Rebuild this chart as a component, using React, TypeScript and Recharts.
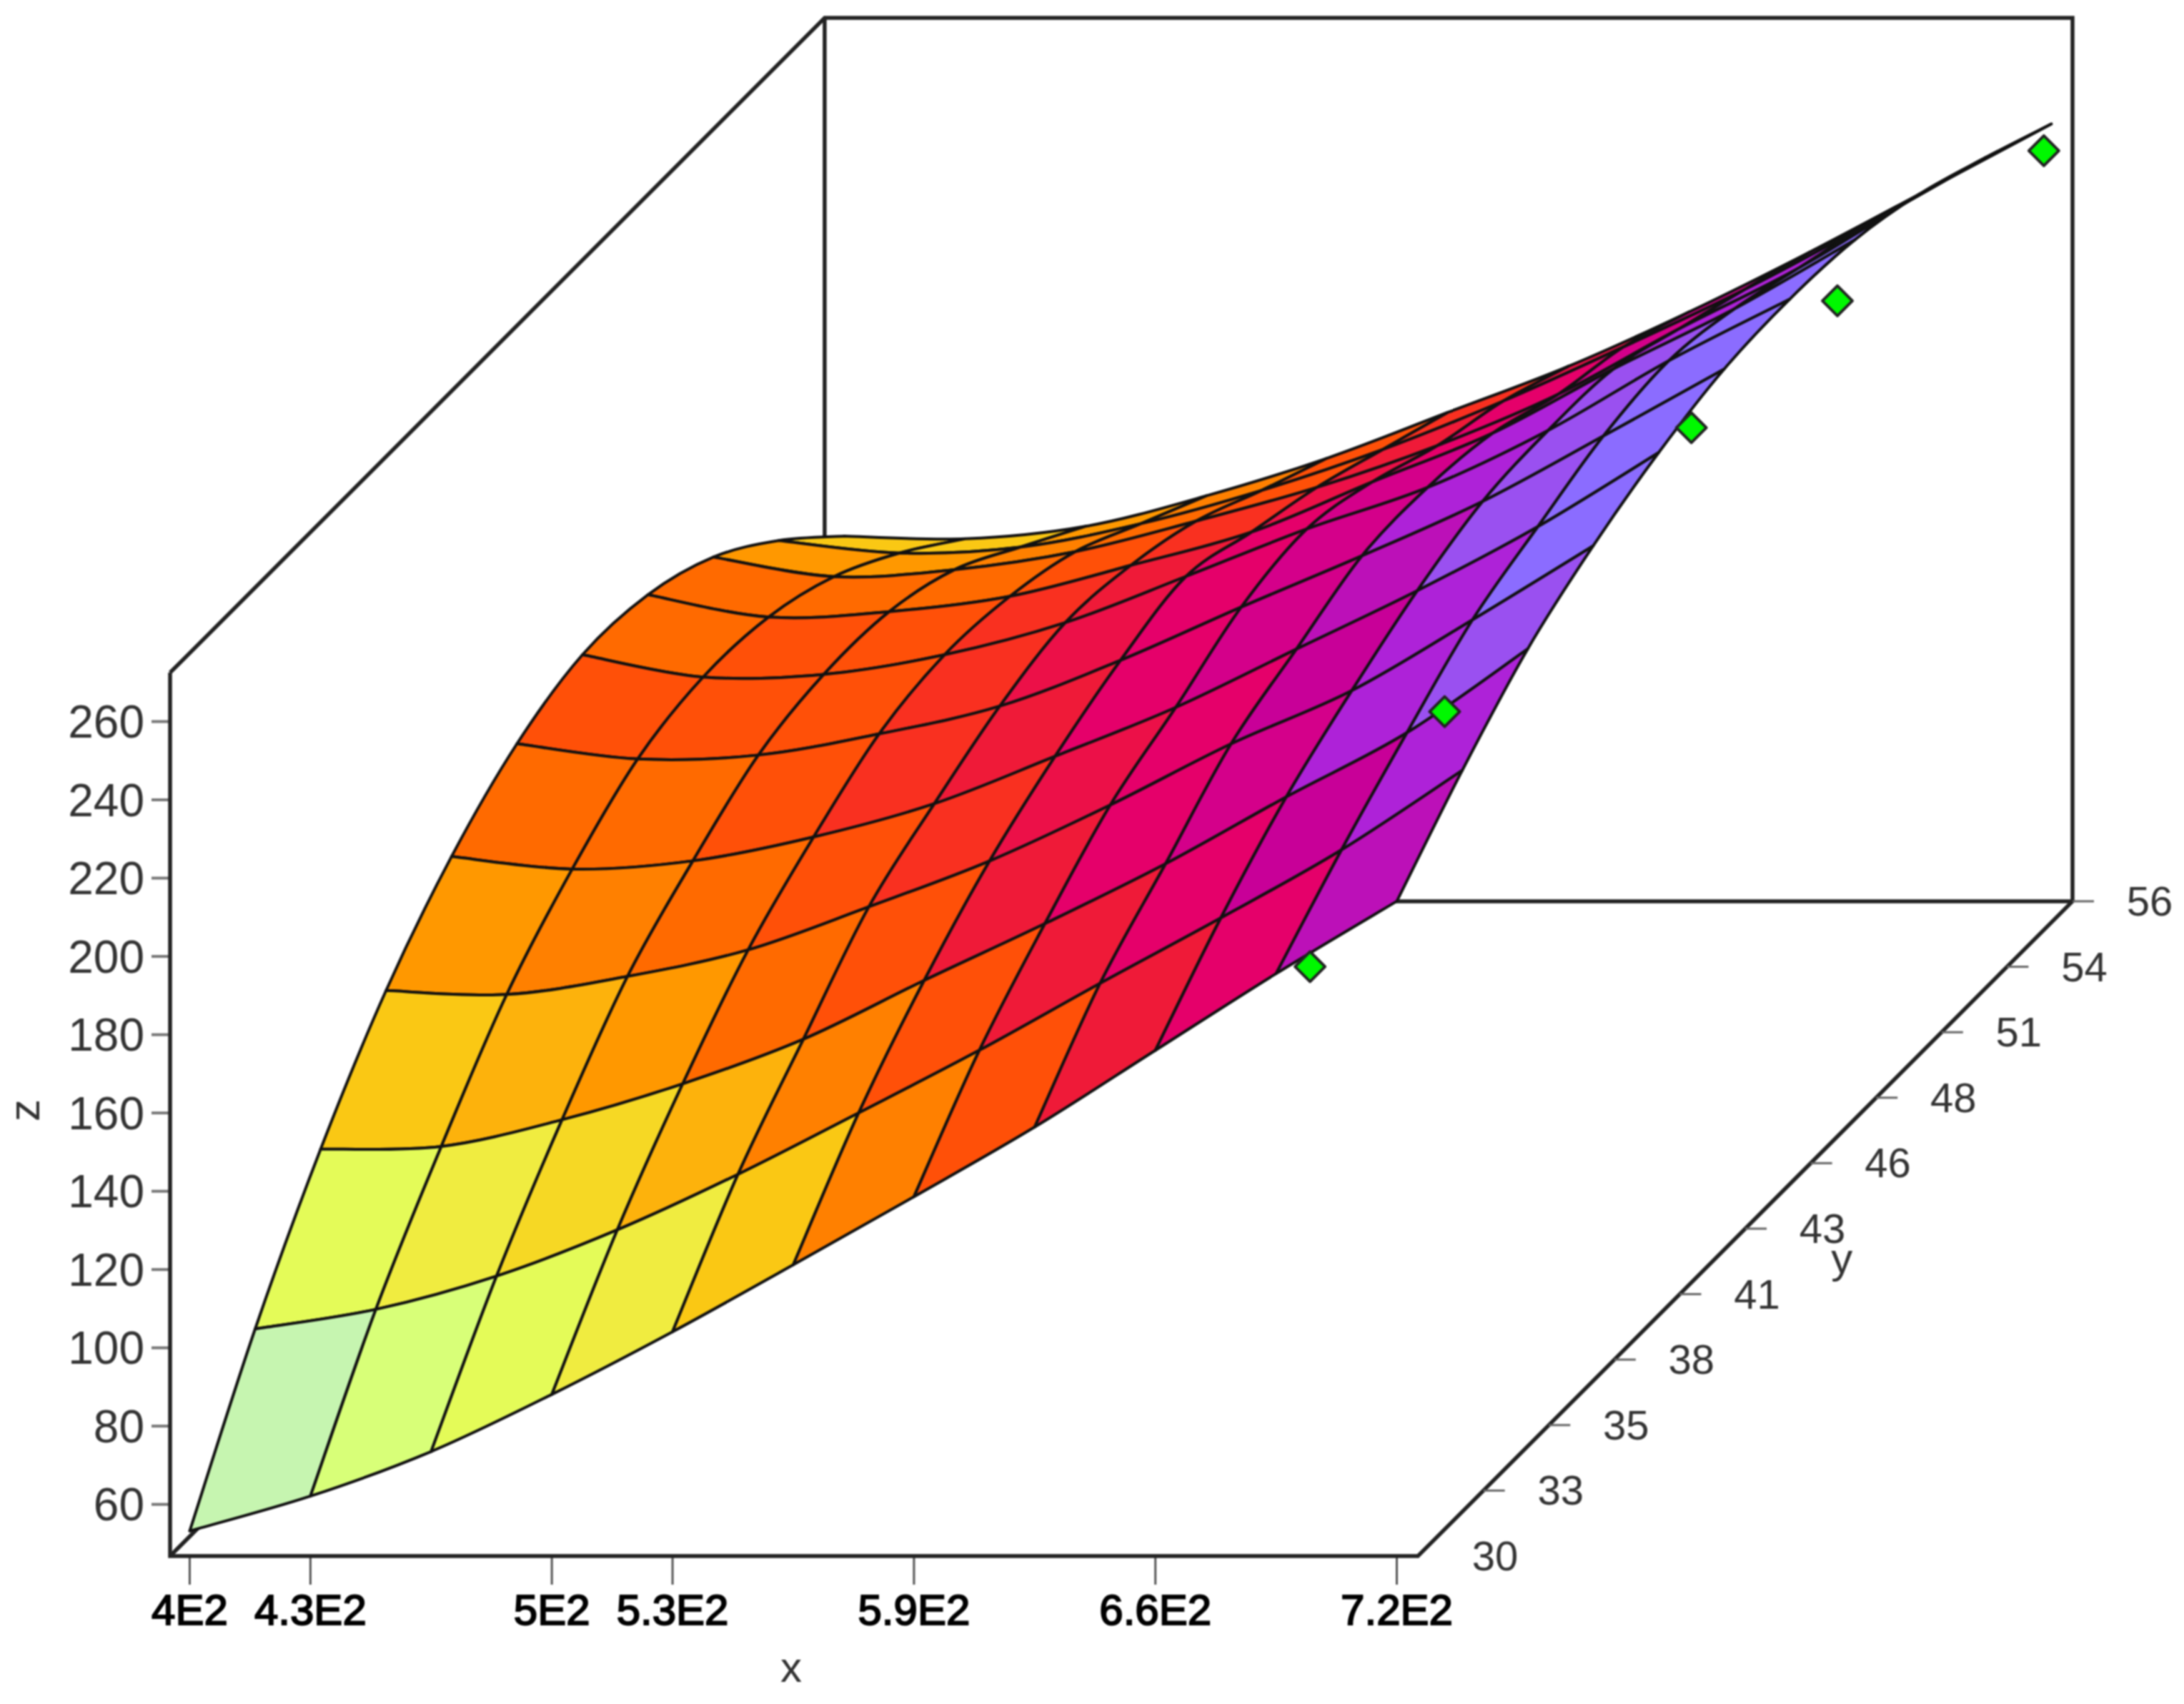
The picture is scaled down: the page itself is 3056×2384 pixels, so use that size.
import { Scatter, ScatterChart, XAxis, YAxis } from "recharts";

// grid of the fitted surface
const xValues = [400, 432, 464, 496, 528, 560, 592, 624, 656, 688, 720];
const yValues = [30, 32.6, 35.2, 37.8, 40.4, 43, 45.6, 48.2, 50.8, 53.4, 56];
// one row per y value, one column per x value
const zGrid = [
  [53.2, 62.1, 73.5, 88.1, 104.1, 121.2, 138.6, 156.4, 176, 195.6, 214.1],
  [88.1, 93.1, 101.6, 113.4, 127.6, 143.3, 159.3, 176.4, 193.1, 210.5, 230.8],
  [117.3, 118, 124.8, 134, 145.4, 160.4, 174.9, 190.2, 207.3, 223.7, 245.1],
  [141.1, 140.1, 144.7, 151.5, 162.5, 174.2, 188.5, 204.1, 217.7, 235.8, 254.7],
  [158.6, 155.4, 157.5, 163.6, 172.1, 184.2, 196.7, 211.6, 226.5, 242.9, 261.8],
  [170.7, 166.8, 167.8, 173.2, 180.3, 192, 205.6, 218.7, 232.6, 249.3, 266.4],
  [176.7, 171, 171.7, 176.7, 184.9, 196.7, 208.8, 219.4, 234, 251.8, 267.5],
  [175.3, 169.6, 171, 174.9, 182.8, 191.3, 204.1, 216.6, 233, 248.3, 266],
  [168.2, 163.2, 165, 169.6, 177.4, 186, 196.7, 209.8, 226.5, 242.2, 261.1],
  [155.7, 152.5, 154, 160, 168.5, 178.9, 191.3, 205.2, 219.8, 236.2, 253.6],
  [140.1, 139.4, 142.6, 150.4, 160, 171.7, 183.5, 197.4, 212.7, 229, 245.4],
];

// measured points
const pointX = [697, 720, 720, 720, 720];
const pointY = [30, 31.9, 41.7, 47.5, 55.7];
const pointZ = [197.4, 250.3, 259.8, 254.9, 240.5];

const xTicks = [400, 432, 496, 528, 592, 656, 720];
const xTickLabels = ["4E2", "4.3E2", "5E2", "5.3E2", "5.9E2", "6.6E2", "7.2E2"];
const zTicks = [60, 80, 100, 120, 140, 160, 180, 200, 220, 240, 260];
const yTickLabels = ["30", "33", "35", "38", "41", "43", "46", "48", "51", "54", "56"];

// colour bands, taken on the far right corner of a cell
const bandLimits = [97, 107, 120, 130, 138, 144, 150, 156, 161, 170, 180, 188, 195, 203, 212, 220, 227, 233, 246, 258];
const bandColors = [
  "#C6F5B0", "#D8FF78", "#E4FB58", "#F0EC40", "#F6D824", "#FAC814", "#FDB20C", "#FF9800", "#FF8000", "#FF6A00",
  "#FF5008", "#F93020", "#EF1A38", "#EC1048", "#E5006A", "#D4008A", "#C80098", "#BC10B8", "#AE22D8", "#9A50F0", "#8B6CFF",
];

const X_MIN = 394.8;
const X_FRONT = 725.6;
const X_MAX = 899.1;
const Y_MIN = 30;
const Y_MAX = 56;
const Z_MIN = 46.8;
const Z_FRONT = 272.5;
const Z_MAX = 439.7;

// oblique view: going back in y shifts right and up on the page
const X_PER_Y = 6.674;
const Z_PER_Y = 6.434;

const project = (x: number, y: number, z: number) => ({
  px: x + (y - Y_MIN) * X_PER_Y,
  pz: z + (y - Y_MIN) * Z_PER_Y,
});

const bandColor = (z: number) => {
  const idx = bandLimits.findIndex((l) => z < l);
  return bandColors[idx === -1 ? bandColors.length - 1 : idx];
};

const last = xValues.length - 1;
const clampIdx = (n: number) => Math.min(last, Math.max(0, n));

// every cell carries its 4x4 neighbourhood so the face can bend its edges through the grid
const cells: { key: string; color: string; data: { px: number; pz: number }[] }[] = [];
for (let j = last - 1; j >= 0; j--) {
  for (let i = 0; i < last; i++) {
    const data: { px: number; pz: number }[] = [];
    for (let r = -1; r <= 2; r++) {
      for (let c = -1; c <= 2; c++) {
        const a = clampIdx(i + c);
        const b = clampIdx(j + r);
        data.push(project(xValues[a], yValues[b], zGrid[b][a]));
      }
    }
    cells.push({ key: `${i}-${j}`, color: bandColor(zGrid[j + 1][i + 1]), data });
  }
}

const boxLines = [
  [[X_MIN, Y_MIN, Z_FRONT], [X_MIN, Y_MAX, Z_FRONT], [X_FRONT, Y_MAX, Z_FRONT], [X_FRONT, Y_MAX, Z_MIN], [X_FRONT, Y_MIN, Z_MIN], [X_MIN, Y_MIN, Z_MIN], [X_MIN, Y_MIN, Z_FRONT]],
  [[X_MIN, Y_MAX, Z_FRONT], [X_MIN, Y_MAX, Z_MIN], [X_FRONT, Y_MAX, Z_MIN]],
  [[X_MIN, Y_MIN, Z_MIN], [X_MIN, Y_MAX, Z_MIN]],
].map((line) => line.map(([x, y, z]) => project(x, y, z)));

const yTickData = yValues.map((y, idx) => ({ ...project(X_FRONT, y, Z_MIN), label: yTickLabels[idx], first: idx === 0 }));
const yTitleData = [{ ...project(X_FRONT, 41.7, Z_MIN) }];
const pointData = pointX.map((x, idx) => project(x, pointY[idx], pointZ[idx]));

const FONT = "'Liberation Sans', Arial, sans-serif";
const INK = "#333333";

type Pt = { x: number; y: number };

// one catmull-rom span from b to c
const span = (a: Pt, b: Pt, c: Pt, d: Pt) =>
  `C${b.x + (c.x - a.x) / 6},${b.y + (c.y - a.y) / 6} ${c.x - (d.x - b.x) / 6},${c.y - (d.y - b.y) / 6} ${c.x},${c.y}`;

function CellFace(color: string) {
  return (props: any) => {
    const p: Pt[] = props.points;
    const at = (r: number, c: number) => p[r * 4 + c];
    const d = [
      `M${at(1, 1).x},${at(1, 1).y}`,
      span(at(1, 0), at(1, 1), at(1, 2), at(1, 3)),
      span(at(0, 2), at(1, 2), at(2, 2), at(3, 2)),
      span(at(2, 3), at(2, 2), at(2, 1), at(2, 0)),
      span(at(3, 1), at(2, 1), at(1, 1), at(0, 1)),
      "Z",
    ].join(" ");
    return <path d={d} fill={color} stroke="#111111" strokeWidth={4} strokeLinejoin="round" />;
  };
}

function YTick({ cx, cy, payload }: any) {
  return (
    <g>
      {!payload.first && <line x1={cx} y1={cy} x2={cx + 30} y2={cy} stroke="#666666" strokeWidth={3} />}
      <text x={cx + 108} y={cy + 20} textAnchor="middle" fontFamily={FONT} fontSize={58} fill={INK}>
        {payload.label}
      </text>
    </g>
  );
}

function YTitle({ cx, cy }: any) {
  return (
    <text x={cx + 181} y={cy + 16} textAnchor="middle" fontFamily={FONT} fontSize={60} fill={INK}>
      y
    </text>
  );
}

function Marker({ cx, cy }: any) {
  const r = 21;
  return (
    <polygon
      points={`${cx},${cy - r} ${cx + r},${cy} ${cx},${cy + r} ${cx - r},${cy}`}
      fill="#00F800"
      stroke="#222222"
      strokeWidth={4}
      strokeLinejoin="round"
    />
  );
}

const noDot = () => null;

export default function App() {
  return (
    <div style={{ position: "absolute", left: 0, top: 0, width: 3056, height: 2384, background: "#fff", filter: "blur(0.8px)" }}>
      <ScatterChart width={3056} height={2384} margin={{ top: 25, right: 156, bottom: 77, left: 108 }}>
        <XAxis
          type="number"
          dataKey="px"
          domain={[X_MIN, X_MAX]}
          ticks={xTicks}
          interval={0}
          height={130}
          axisLine={false}
          tickSize={40}
          tickMargin={13}
          tickLine={{ stroke: "#555555", strokeWidth: 3 }}
          tickFormatter={(v) => xTickLabels[xTicks.indexOf(Number(v))]}
          tick={{ fontFamily: FONT, fontSize: 60, fill: "#000000", stroke: "#000000", strokeWidth: 2 }}
          label={{ value: "x", position: "bottom", dx: -462, dy: -2, fontFamily: FONT, fontSize: 60, fill: INK }}
        />
        <YAxis
          type="number"
          dataKey="pz"
          domain={[Z_MIN, Z_MAX]}
          ticks={zTicks}
          interval={0}
          width={130}
          axisLine={false}
          tickSize={26}
          tickMargin={10}
          tickLine={{ stroke: "#777777", strokeWidth: 4 }}
          tick={{ fontFamily: FONT, fontSize: 64, fill: INK }}
          label={{ value: "z", angle: -90, position: "insideLeft", dx: -80, dy: 468, fontFamily: FONT, fontSize: 62, fill: INK }}
        />

        {boxLines.map((line, idx) => (
          <Scatter
            key={`box-${idx}`}
            data={line}
            line={{ stroke: "#222222", strokeWidth: 5.5 }}
            lineJointType="linear"
            shape={noDot}
            isAnimationActive={false}
          />
        ))}

        {cells.map((cell) => (
          <Scatter key={cell.key} data={cell.data} line={CellFace(cell.color)} shape={noDot} isAnimationActive={false} />
        ))}

        <Scatter data={pointData} shape={Marker} isAnimationActive={false} />
        <Scatter data={yTickData} shape={YTick} isAnimationActive={false} />
        <Scatter data={yTitleData} shape={YTitle} isAnimationActive={false} />
      </ScatterChart>
    </div>
  );
}
